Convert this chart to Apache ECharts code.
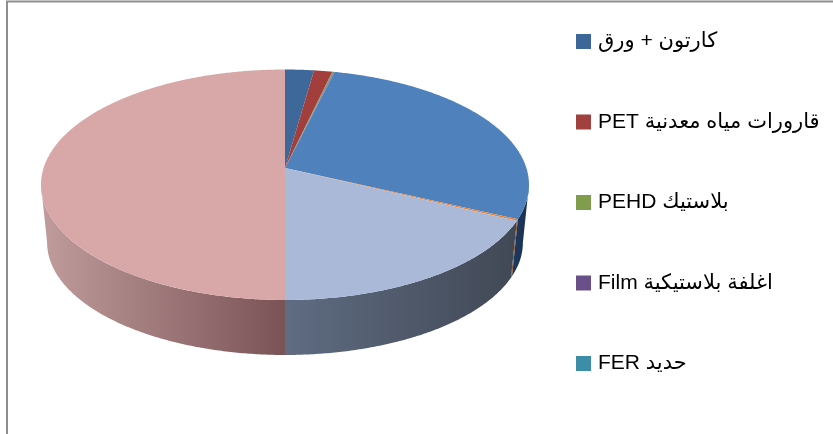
<!DOCTYPE html>
<html><head><meta charset="utf-8">
<style>html,body{margin:0;padding:0;background:#fff}#c{width:833px;height:434px}</style>
<script src="https://cdn.jsdelivr.net/npm/echarts@6/dist/echarts.min.js"></script>
</head><body><div id="c"></div>
<script>
// Data
const legendNames = ['كارتون + ورق','PET قارورات مياه معدنية','PEHD بلاستيك','Film اغلفة بلاستيكية','FER حديد'];
const legendColors = ['#3C6698','#A04140','#7F9D4C','#6A5088','#3C8DA6'];
const sliceNames = ['كارتون + ورق','PET قارورات مياه معدنية','PEHD بلاستيك','Film اغلفة بلاستيكية','FER حديد','s6','s7','s8','s9'];
const sliceValues = [2.2,1.4,0.1,0.05,0.02,28.23,0.2,17.8,50];
const topColors = ['#3D6899','#A23F3D','#82A04C','#6C5189','#3D8EA8','#4F81BD','#E5823A','#A9B9D7','#D8A7A7'];
const wallFrom = ['#28436A','#5A2423','#4A5C2B','#3D2F4F','#235A6B','#1E3A60','#8A4A1E','#5F6C82','#C09C9C'];
const wallTo   = ['#28436A','#5A2423','#4A5C2B','#3D2F4F','#235A6B','#1A3050','#8A4A1E','#414855','#7A5356'];
// Projection of the tilted disc
const CX=285, AY=168, A=241.4, B=112.8, K=0.1453, LOW=0.975, LOWY=226.3;
const TAN_R=90+Math.asin(K)*180/Math.PI, TAN_L=360-TAN_R;
function pt(deg, low){
  const t=deg*Math.PI/180, u=Math.sin(t), v=Math.cos(t), d=1+K*v;
  const s=low?LOW:1, y0=low?LOWY:AY;
  return [CX+s*A*u/d, y0-s*B*v/d];
}
function arc(a0,a1,low){
  const n=Math.max(2,Math.ceil(Math.abs(a1-a0)/0.5)), out=[];
  for(let i=0;i<=n;i++) out.push(pt(a0+(a1-a0)*i/n,low));
  return out;
}
const total=sliceValues.reduce((a,b)=>a+b,0);
let acc=0;
const starts=sliceValues.map(v=>{const s=acc;acc+=v;return s;});
const series=[];
sliceValues.forEach((val,i)=>{
  const a0=starts[i]/total*360, a1=(starts[i]+val)/total*360;
  const w0=Math.max(a0,TAN_R), w1=Math.min(a1,TAN_L);
  if(w1>w0){
    series.push({type:'custom',name:'wall'+i,coordinateSystem:'none',silent:true,z:1,
      data:[[a0,a1]],
      renderItem(){
        const top=arc(w0,w1,false), bot=arc(w1,w0,true);
        const pts=top.concat(bot), xs=pts.map(p=>p[0]);
        return {type:'polygon',shape:{points:pts},
          style:{fill:{type:'linear',x:Math.min(...xs),y:0,x2:Math.max(...xs),y2:0,global:true,
            colorStops:[{offset:0,color:wallFrom[i]},{offset:1,color:wallTo[i]}]}}};
      }});
  }
  series.push({type:'custom',name:sliceNames[i],coordinateSystem:'none',silent:true,z:2,
    itemStyle:{color:topColors[i]},
    data:[[a0,a1]],
    renderItem(p,api){
      const pts=[[CX,AY]].concat(arc(api.value(0),api.value(1),false));
      return {type:'polygon',shape:{points:pts},style:{fill:topColors[i]}};
    }});
});
const chart=echarts.init(document.getElementById('c'),null,{renderer:'canvas'});
chart.setOption({
  animation:false,
  backgroundColor:'#fff',
  legend:{
    orient:'vertical',left:576,top:31,padding:0,itemWidth:15,itemHeight:15,itemGap:59.5,icon:'rect',selectedMode:false,
    textStyle:{fontFamily:'"Liberation Sans","DejaVu Sans",sans-serif',fontSize:21,color:'#000',lineHeight:20,padding:[0,0,0,2]},
    data:legendNames.map((n,i)=>({name:n,icon:'rect',itemStyle:{color:legendColors[i]}}))
  },
  graphic:[
    {type:'line',silent:true,shape:{x1:6,y1:1.5,x2:833,y2:1.5},style:{stroke:'#8E8E8E',lineWidth:2}},
    {type:'line',silent:true,shape:{x1:7,y1:1,x2:7,y2:434},style:{stroke:'#8E8E8E',lineWidth:2}}
  ],
  series
});
</script></body></html>
